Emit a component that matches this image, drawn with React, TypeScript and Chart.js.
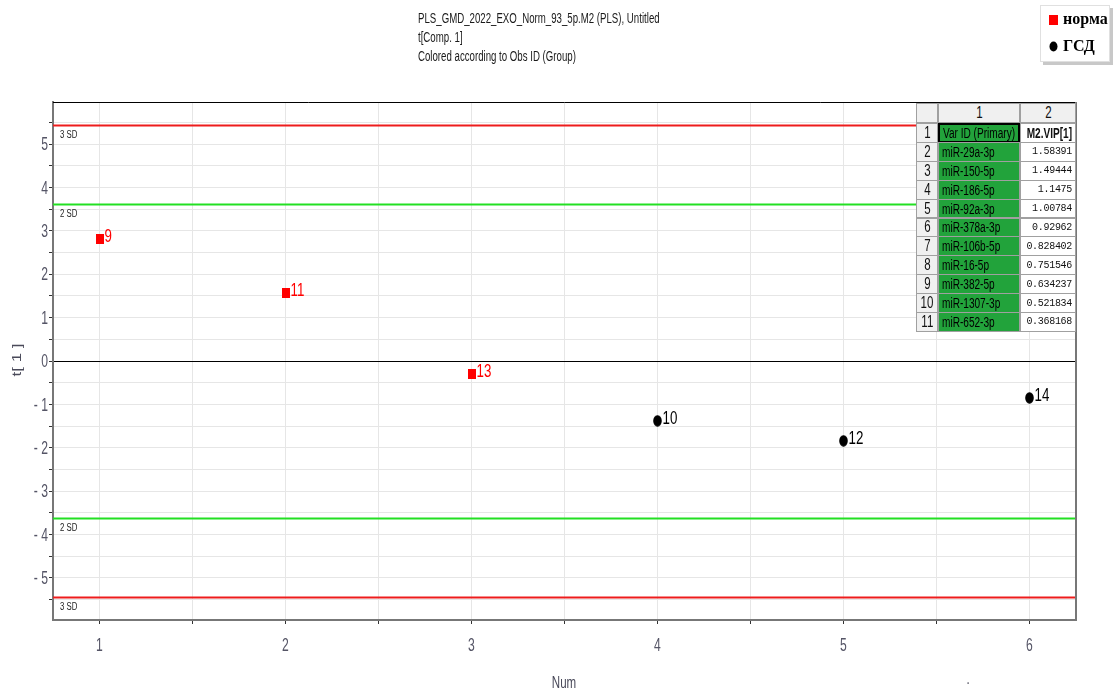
import React, { useEffect, useRef } from "react";
import { Chart, registerables } from "chart.js";

Chart.register(...registerables);

const titleLines = [
  "PLS_GMD_2022_EXO_Norm_93_5p.M2 (PLS), Untitled",
  "t[Comp. 1]",
  "Colored according to Obs ID (Group)",
];

const groupNames = ["норма", "ГСД"];
const normaX = [1, 2, 3];
const normaY = [2.81, 1.57, -0.3];
const normaLabels = ["9", "11", "13"];
const gsdX = [4, 5, 6];
const gsdY = [-1.38, -1.84, -0.85];
const gsdLabels = ["10", "12", "14"];

const sd2Limit = 3.62;
const sd3Limit = 5.44;

const xMin = 0.75;
const xMax = 6.25;
const yMin = -5.97;
const yMax = 5.97;
const xTickValues = [1, 1.5, 2, 2.5, 3, 3.5, 4, 4.5, 5, 5.5, 6];
const xTickLabels = ["1", "2", "3", "4", "5", "6"];
const yTickValues = [-5.5, -5, -4.5, -4, -3.5, -3, -2.5, -2, -1.5, -1, -0.5, 0, 0.5, 1, 1.5, 2, 2.5, 3, 3.5, 4, 4.5, 5, 5.5];
const yTickLabels = ["-5", "-4", "-3", "-2", "-1", "0", "1", "2", "3", "4", "5"];

const xAxisTitle = "Num";
const yAxisTitle = "t[ 1 ]";

const tableColHeaders = ["1", "2"];
const tableHeaderCells = ["Var ID (Primary)", "M2.VIP[1]"];
const varIds = [
  "miR-29a-3p",
  "miR-150-5p",
  "miR-186-5p",
  "miR-92a-3p",
  "miR-378a-3p",
  "miR-106b-5p",
  "miR-16-5p",
  "miR-382-5p",
  "miR-1307-3p",
  "miR-652-3p",
];
const vipValues = [
  "1.58391",
  "1.49444",
  "1.1475",
  "1.00784",
  "0.92962",
  "0.828402",
  "0.751546",
  "0.634237",
  "0.521834",
  "0.368168",
];

const W = 1120;
const H = 691;
const SANS = "'Liberation Sans', Arial, sans-serif";

function squeezed(ctx: any, text: string, x: number, y: number, sx: number, align: string) {
  ctx.save();
  ctx.translate(x, y);
  ctx.scale(sx, 1);
  ctx.textAlign = align;
  ctx.fillText(text, 0, 0);
  ctx.restore();
}

function makeMarker(kind: string): HTMLCanvasElement {
  const c = document.createElement("canvas");
  if (kind === "rect") {
    c.width = 8;
    c.height = 10;
    const g = c.getContext("2d")!;
    g.fillStyle = "#ff0000";
    g.fillRect(0, 0, 8, 10);
  } else {
    c.width = 9;
    c.height = 12;
    const g = c.getContext("2d")!;
    g.fillStyle = "#000";
    g.beginPath();
    g.ellipse(4.5, 6, 4.3, 5.8, 0, 0, Math.PI * 2);
    g.fill();
  }
  return c;
}

const overlayPlugin = {
  id: "overlay",
  beforeDatasetsDraw(chart: any) {
    const { ctx, chartArea, scales } = chart;
    const ys = scales.y;
    ctx.save();
    const lines = [
      { v: sd3Limit, c: "#ee1c1c", t: "3 SD" },
      { v: -sd3Limit, c: "#ee1c1c", t: "3 SD" },
      { v: sd2Limit, c: "#22e022", t: "2 SD" },
      { v: -sd2Limit, c: "#22e022", t: "2 SD" },
    ];
    for (const l of lines) {
      const y = Math.round(ys.getPixelForValue(l.v)) + 0.5;
      ctx.strokeStyle = l.c;
      ctx.lineWidth = 2;
      ctx.beginPath();
      ctx.moveTo(chartArea.left, y);
      ctx.lineTo(chartArea.right, y);
      ctx.stroke();
      ctx.fillStyle = "#222";
      ctx.font = "10px " + SANS;
      ctx.textBaseline = "middle";
      squeezed(ctx, l.t, chartArea.left + 7, y + 10, 0.78, "left");
    }
    ctx.restore();
  },
  afterDatasetsDraw(chart: any) {
    const { ctx } = chart;
    ctx.save();
    ctx.font = "18px " + SANS;
    ctx.textBaseline = "middle";
    chart.data.datasets.forEach((ds: any, i: number) => {
      const meta = chart.getDatasetMeta(i);
      ctx.fillStyle = ds.labelColor;
      meta.data.forEach((pt: any, j: number) => {
        squeezed(ctx, ds.pointLabels[j], pt.x + 5, pt.y - 2, 0.74, "left");
      });
    });
    ctx.restore();
  },
  afterDraw(chart: any) {
    const { ctx, chartArea, scales } = chart;
    ctx.save();
    // frame top/right
    ctx.strokeStyle = "#000";
    ctx.lineWidth = 1;
    ctx.beginPath();
    ctx.moveTo(chartArea.left, chartArea.top + 0.5);
    ctx.lineTo(chartArea.right, chartArea.top + 0.5);
    ctx.stroke();
    ctx.strokeStyle = "#777";
    ctx.lineWidth = 2;
    ctx.beginPath();
    ctx.moveTo(chartArea.right, chartArea.top);
    ctx.lineTo(chartArea.right, chartArea.bottom);
    ctx.stroke();

    // tick labels
    ctx.fillStyle = "#555566";
    ctx.font = "19px " + SANS;
    ctx.textBaseline = "middle";
    xTickLabels.forEach((t) => {
      const x = scales.x.getPixelForValue(Number(t));
      squeezed(ctx, t, x, chartArea.bottom + 26, 0.64, "center");
    });
    yTickLabels.forEach((t) => {
      const v = Number(t);
      const y = scales.y.getPixelForValue(v);
      const txt = v < 0 ? "- " + Math.abs(v) : t;
      squeezed(ctx, txt, chartArea.left - 5, y + 1, 0.64, "right");
    });

    // titles
    ctx.fillStyle = "#1a1a1a";
    ctx.font = "14px " + SANS;
    ctx.textBaseline = "middle";
    titleLines.forEach((t, i) => squeezed(ctx, t, 418, 19 + i * 19, 0.69, "left"));

    // axis titles
    ctx.fillStyle = "#4a4a5a";
    ctx.font = "17px " + SANS;
    squeezed(ctx, xAxisTitle, 564, 683, 0.68, "center");
    squeezed(ctx, ".", 968, 679, 0.68, "center");
    ctx.save();
    ctx.translate(18, 360);
    ctx.rotate(-Math.PI / 2);
    ctx.scale(1, 0.72);
    ctx.textAlign = "center";
    ctx.fillText(yAxisTitle, 0, 0);
    ctx.restore();

    // legend box
    ctx.fillStyle = "#c8c8c8";
    ctx.fillRect(1043, 8, 70, 57);
    ctx.fillStyle = "#fff";
    ctx.fillRect(1040, 5, 70, 57);
    ctx.strokeStyle = "#e0e0e0";
    ctx.lineWidth = 1;
    ctx.strokeRect(1040.5, 5.5, 69, 56);
    ctx.fillStyle = "#ff0000";
    ctx.fillRect(1049, 15, 9, 10);
    ctx.fillStyle = "#000";
    ctx.beginPath();
    ctx.ellipse(1053.5, 46.5, 4, 5, 0, 0, Math.PI * 2);
    ctx.fill();
    ctx.font = "bold 16px 'Liberation Serif', 'DejaVu Serif', serif";
    ctx.textAlign = "left";
    ctx.fillText(groupNames[0], 1063, 20);
    ctx.fillText(groupNames[1], 1063, 47);
    ctx.restore();
  },
};

function App() {
  const ref = useRef<HTMLCanvasElement | null>(null);

  useEffect(() => {
    document.body.style.margin = "0";
    const canvas = ref.current!;
    const chart = new Chart(canvas, {
      type: "scatter",
      data: {
        datasets: [
          {
            label: groupNames[0],
            data: normaX.map((x, i) => ({ x, y: normaY[i] })),
            pointStyle: makeMarker("rect"),
            pointRadius: 5,
            backgroundColor: "#ff0000",
            borderColor: "#ff0000",
            pointLabels: normaLabels,
            labelColor: "#ff0000",
          } as any,
          {
            label: groupNames[1],
            data: gsdX.map((x, i) => ({ x, y: gsdY[i] })),
            pointStyle: makeMarker("circle"),
            pointRadius: 5,
            backgroundColor: "#000",
            borderColor: "#000",
            pointLabels: gsdLabels,
            labelColor: "#000",
          } as any,
        ],
      },
      options: {
        animation: false,
        responsive: false,
        maintainAspectRatio: false,
        layout: { padding: { top: 102, right: 44, left: 0, bottom: 0 } },
        plugins: { legend: { display: false }, tooltip: { enabled: false } },
        scales: {
          x: {
            type: "linear",
            min: xMin,
            max: xMax,
            afterFit: (s: any) => {
              s.height = 71;
            },
            afterBuildTicks: (s: any) => {
              s.ticks = xTickValues.map((v) => ({ value: v }));
            },
            ticks: {
              autoSkip: false,
              maxRotation: 0,
              callback: () => "",
            },
            grid: {
              color: "#e6e6e6",
              tickColor: "#333",
              tickLength: 4,
            },
            border: { color: "#777", width: 2 },
          },
          y: {
            type: "linear",
            min: yMin,
            max: yMax,
            afterFit: (s: any) => {
              s.width = 53;
            },
            afterBuildTicks: (s: any) => {
              s.ticks = yTickValues.map((v) => ({ value: v }));
            },
            ticks: {
              autoSkip: false,
              callback: () => "",
            },
            grid: {
              color: (c: any) => (c.tick && c.tick.value === 0 ? "#000" : "#e6e6e6"),
              tickColor: "#333",
              tickLength: 4,
            },
            border: { color: "#777", width: 2 },
          },
        },
      } as any,
      plugins: [overlayPlugin],
    });
    return () => chart.destroy();
  }, []);

  const rowH = 18.9;
  const cellBase: React.CSSProperties = {
    position: "absolute",
    boxSizing: "border-box",
    border: "1px solid #a0a0a0",
    fontFamily: SANS,
    fontSize: 12,
    display: "flex",
    alignItems: "center",
    overflow: "hidden",
    whiteSpace: "nowrap",
  };
  const sq = (text: string, sx: number, origin: string) => (
    <span style={{ display: "inline-block", transform: `scaleX(${sx})`, transformOrigin: origin }}>{text}</span>
  );
  const tblLeft = 916;
  const tblTop = 103;
  const c0 = 22;
  const c1 = 82;
  const c2 = 56;
  const headH = 20;

  const cells: React.ReactNode[] = [];
  cells.push(
    <div key="corner" style={{ ...cellBase, left: tblLeft, top: tblTop, width: c0, height: headH, background: "#f0f0f0" }} />
  );
  tableColHeaders.forEach((h, i) => {
    cells.push(
      <div
        key={"ch" + i}
        style={{
          ...cellBase,
          left: tblLeft + c0 + (i === 0 ? 0 : c1),
          top: tblTop,
          width: i === 0 ? c1 : c2,
          height: headH,
          background: "#f0f0f0",
          justifyContent: "center",
          fontSize: 16,
          color: "#111",
        }}
      >
        {sq(h, 0.72, "center")}
      </div>
    );
  });
  const allRows = [[tableHeaderCells[0], tableHeaderCells[1]], ...varIds.map((v, i) => [v, vipValues[i]])];
  allRows.forEach((r, i) => {
    const top = tblTop + headH + i * rowH;
    cells.push(
      <div
        key={"rn" + i}
        style={{ ...cellBase, left: tblLeft, top, width: c0, height: rowH + 1, background: "#f0f0f0", justifyContent: "center", fontSize: 16, color: "#111" }}
      >
        {sq(String(i + 1), 0.72, "center")}
      </div>
    );
    cells.push(
      <div
        key={"a" + i}
        style={{
          ...cellBase,
          left: tblLeft + c0,
          top,
          width: c1,
          height: rowH + 1,
          background: "#22a33b",
          color: "#000",
          paddingLeft: 3,
          fontSize: 14,
          fontWeight: i === 0 ? "normal" : "normal",
          border: i === 0 ? "2px solid #000" : "1px solid #a0a0a0",
        }}
      >
        {sq(r[0], 0.72, "left")}
      </div>
    );
    cells.push(
      <div
        key={"b" + i}
        style={{
          ...cellBase,
          left: tblLeft + c0 + c1,
          top,
          width: c2,
          height: rowH + 1,
          background: "#fff",
          color: "#111",
          justifyContent: "flex-end",
          paddingRight: 3,
          fontFamily: i === 0 ? SANS : "'Liberation Mono', 'DejaVu Sans Mono', monospace",
          fontWeight: i === 0 ? "bold" : "normal",
          fontSize: i === 0 ? 14 : 10,
          letterSpacing: i === 0 ? 0 : -0.3,
        }}
      >
        {i === 0 ? sq(r[1], 0.72, "right") : r[1]}
      </div>
    );
  });

  return (
    <div style={{ position: "fixed", left: 0, top: 0, width: W, height: H, background: "#fff" }}>
      <canvas ref={ref} width={W} height={H} style={{ position: "absolute", left: 0, top: 0, width: W, height: H }} />
      {cells}
    </div>
  );
}

export default App;
